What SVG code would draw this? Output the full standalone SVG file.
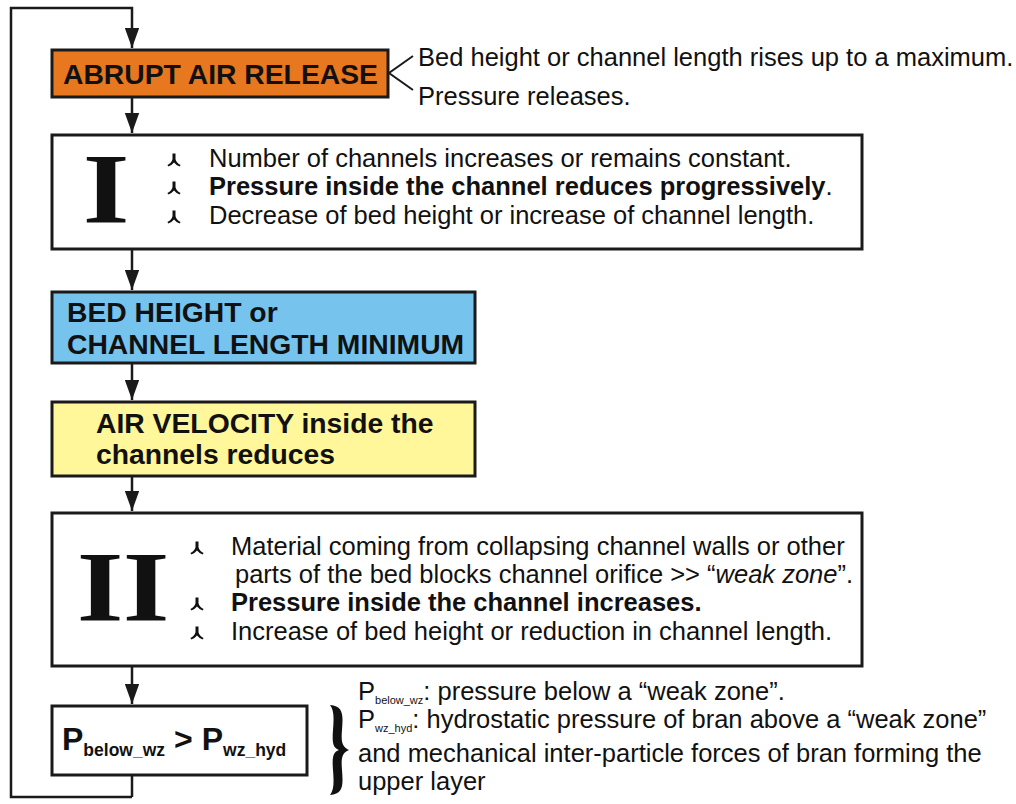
<svg xmlns="http://www.w3.org/2000/svg" width="1016" height="804" viewBox="0 0 1016 804">
<defs>
<style>
.box{stroke:#1a1a1a;stroke-width:3;}
.t{font-family:"Liberation Sans",Arial,sans-serif;fill:#111;font-size:25.5px;}
.hd{font-family:"Liberation Sans",Arial,sans-serif;font-weight:bold;fill:#111;font-size:28.3px;}
.rn{font-family:"Liberation Serif","Times New Roman",serif;font-weight:bold;fill:#111;font-size:100px;}
.ln{fill:none;stroke:#1a1a1a;stroke-width:2.5;}
</style>
<marker id="ah" viewBox="0 0 14 10" refX="14" refY="5" markerWidth="8" markerHeight="5.7" markerUnits="strokeWidth" orient="auto">
<path d="M0,0 L14,5 L0,10 Z" fill="#1a1a1a"/>
</marker>
<path id="bul" d="M-1.5,-6.5 L1.5,-6.5 L1.5,-0.8 Q2.8,3.4 6.6,5 L5.6,6.6 Q1.8,5 0,2.6 Q-1.8,5 -5.6,6.6 L-6.6,5 Q-2.8,3.4 -1.5,-0.8 Z" fill="#111"/>
</defs>
<rect width="1016" height="804" fill="#fff"/>

<g id="connectors">
<path class="ln" d="M132,797 L11,797 L11,8 L132,8 L132,48" marker-end="url(#ah)"/>
<path class="ln" d="M132,97 L132,133" marker-end="url(#ah)"/>
<path class="ln" d="M132,249 L132,290" marker-end="url(#ah)"/>
<path class="ln" d="M132,363 L132,400" marker-end="url(#ah)"/>
<path class="ln" d="M132,476 L132,511" marker-end="url(#ah)"/>
<path class="ln" d="M132,666 L132,704" marker-end="url(#ah)"/>
<path class="ln" d="M132,776 L132,797"/>
<path fill="none" stroke="#1a1a1a" stroke-width="2" d="M413,56 L389,73 L413,90"/>
</g>

<g id="abrupt">
<rect class="box" x="52" y="50" width="336" height="47" fill="#E8781F"/>
<text class="hd" x="63" y="84">ABRUPT AIR RELEASE</text>
</g>
<g id="abrupt-notes">
<text class="t" x="418" y="66">Bed height or channel length rises up to a maximum.</text>
<text class="t" x="418" y="105">Pressure releases.</text>
</g>

<g id="stage1">
<rect class="box" x="52" y="135" width="810" height="114" fill="#fff"/>
<text class="rn" x="106" y="222" text-anchor="middle" transform="translate(106,0) scale(1.2,1) translate(-106,0)">I</text>
<use href="#bul" x="174" y="160"/>
<use href="#bul" x="174" y="188"/>
<use href="#bul" x="174" y="217"/>
<text class="t" x="209" y="167">Number of channels increases or remains constant.</text>
<text class="t" x="209" y="195"><tspan font-weight="bold">Pressure inside the channel reduces progressively</tspan>.</text>
<text class="t" x="209" y="224">Decrease of bed height or increase of channel length.</text>
</g>

<g id="minimum">
<rect class="box" x="52" y="292" width="423" height="71" fill="#76C3EE"/>
<text class="hd" x="67" y="322">BED HEIGHT or</text>
<text class="hd" x="67" y="354">CHANNEL LENGTH MINIMUM</text>
</g>

<g id="velocity">
<rect class="box" x="52" y="402" width="423" height="74" fill="#FFF799"/>
<text class="hd" x="96" y="433">AIR VELOCITY inside the</text>
<text class="hd" x="96" y="464">channels reduces</text>
</g>

<g id="stage2">
<rect class="box" x="52" y="513" width="810" height="153" fill="#fff"/>
<text class="rn" x="100" y="620" text-anchor="middle" transform="translate(100,0) scale(1.2,1) translate(-100,0)">I</text>
<text class="rn" x="146" y="620" text-anchor="middle" transform="translate(146,0) scale(1.2,1) translate(-146,0)">I</text>
<use href="#bul" x="197" y="548"/>
<use href="#bul" x="197" y="604"/>
<use href="#bul" x="197" y="633"/>
<text class="t" x="231" y="555">Material coming from collapsing channel walls or other</text>
<text class="t" x="235" y="583">parts of the bed blocks channel orifice &gt;&gt; “<tspan font-style="italic">weak zone</tspan>”.</text>
<text class="t" x="231" y="611" font-weight="bold">Pressure inside the channel increases.</text>
<text class="t" x="231" y="640">Increase of bed height or reduction in channel length.</text>
</g>

<g id="condition">
<rect class="box" x="52" y="706" width="255" height="69" fill="#fff"/>
<text class="hd" x="62" y="750" style="font-size:32px">P<tspan style="font-size:17.5px" dy="6">below_wz</tspan><tspan dy="-6" dx="9">&gt;</tspan><tspan dx="9">P</tspan><tspan style="font-size:17.5px" dy="6">wz_hyd</tspan></text>
</g>

<g id="definitions">
<path fill="#111" d="M330,705 C344,706 343,716 342,730 C341,742 342,747 349,750 C342,753 341,758 342,770 C343,784 344,794 330,795 C334,790 334,782 333,770 C332,757 333,752 339,750 C333,748 332,743 333,730 C334,718 334,710 330,705 Z"/>
<text class="t" x="358" y="700">P<tspan style="font-size:11px" dy="4">below_wz</tspan><tspan dy="-4">: pressure below a “weak zone”.</tspan></text>
<text class="t" x="358" y="728">P<tspan style="font-size:11px" dy="4">wz_hyd</tspan><tspan dy="-4">: hydrostatic pressure of bran above a “weak zone”</tspan></text>
<text class="t" x="358" y="762">and mechanical inter-particle forces of bran forming the</text>
<text class="t" x="358" y="790">upper layer</text>
</g>
</svg>
